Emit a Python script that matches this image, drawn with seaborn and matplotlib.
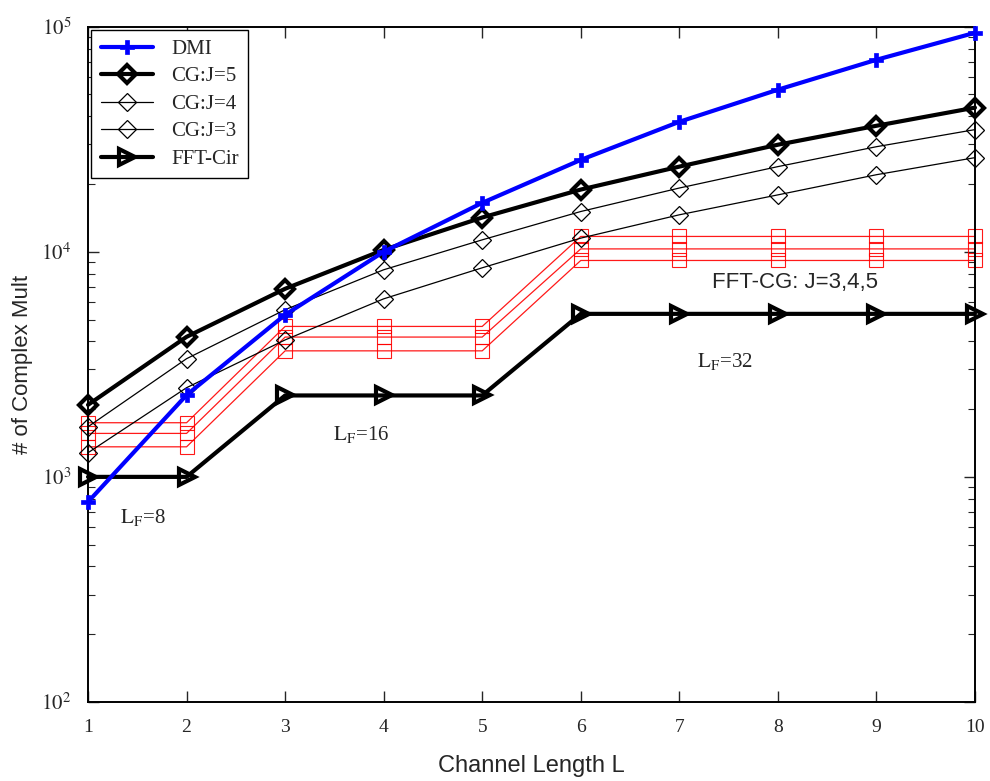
import numpy as np
import pandas as pd
import matplotlib
matplotlib.use("Agg")
import matplotlib.pyplot as plt
import seaborn as sns
from matplotlib.ticker import FixedLocator, LogLocator, FuncFormatter, NullFormatter
from matplotlib.lines import Line2D

# Channel length L
channel_length = [1, 2, 3, 4, 5, 6, 7, 8, 9, 10]

# Number of complex multiplications per method
dmi = [774, 2310, 5250, 10000, 16500, 25600, 37800, 52500, 71300, 94000]
cg_j5 = [2090, 4190, 6850, 10200, 14200, 18900, 23900, 29900, 36300, 43700]
cg_j4 = [1670, 3350, 5530, 8320, 11300, 15100, 19200, 23900, 29300, 34900]
cg_j3 = [1280, 2490, 4060, 6180, 8490, 11500, 14600, 17900, 22000, 26200]
fft_cir = [1000, 1000, 2300, 2300, 2300, 5300, 5300, 5300, 5300, 5300]
fft_cg_j5 = [1740, 1740, 4660, 4660, 4660, 11700, 11700, 11700, 11700, 11700]
fft_cg_j4 = [1560, 1560, 4180, 4180, 4180, 10300, 10300, 10300, 10300, 10300]
fft_cg_j3 = [1360, 1360, 3630, 3630, 3630, 9150, 9150, 9150, 9150, 9150]

legend_labels = ["DMI", "CG:J=5", "CG:J=4", "CG:J=3", "FFT-Cir"]

sns.set_style("ticks")
plt.rcParams["font.family"] = ["Liberation Serif", "DejaVu Serif"]
plt.rcParams["mathtext.fontset"] = "stix"

SERIF = ["Liberation Serif", "DejaVu Serif"]
SANS = ["Liberation Sans", "DejaVu Sans"]

fig = plt.figure(figsize=(9.9, 7.81), dpi=100)
ax = fig.add_axes([0.0889, 0.1012, 0.8959, 0.8646])

df = pd.DataFrame({
    "L": channel_length,
    "DMI": dmi, "CG5": cg_j5, "CG4": cg_j4, "CG3": cg_j3, "FFTCir": fft_cir,
    "FCG5": fft_cg_j5, "FCG4": fft_cg_j4, "FCG3": fft_cg_j3,
})

# FFT-CG curves (red, open squares), drawn first so the others sit on top
for col in ["FCG5", "FCG4", "FCG3"]:
    sns.lineplot(data=df, x="L", y=col, ax=ax, color="red", lw=0.9,
                 marker="s", markersize=10.5, markerfacecolor="none",
                 markeredgecolor="red", markeredgewidth=0.8, alpha=0.9,
                 legend=False, zorder=2, clip_on=False)

styles = {
    "DMI": dict(color="blue", lw=3.0, marker="P", markersize=10,
                markerfacecolor="blue", markeredgecolor="blue", markeredgewidth=0.5),
    "CG5": dict(color="black", lw=3.0, marker="D", markersize=9,
                markerfacecolor="none", markeredgecolor="black", markeredgewidth=3.0),
    "CG4": dict(color="black", lw=0.9, marker="D", markersize=9,
                markerfacecolor="none", markeredgecolor="black", markeredgewidth=0.9),
    "CG3": dict(color="black", lw=0.9, marker="D", markersize=9,
                markerfacecolor="none", markeredgecolor="black", markeredgewidth=0.9),
    "FFTCir": dict(color="black", lw=3.0, marker=">", markersize=12,
                   markerfacecolor="none", markeredgecolor="black", markeredgewidth=3.0),
}
order = ["DMI", "CG5", "CG4", "CG3", "FFTCir"]
for col in order[::-1]:
    sns.lineplot(data=df, x="L", y=col, ax=ax, legend=False, zorder=3,
                 clip_on=False, **styles[col])

ax.set_yscale("log")
ax.set_xlim(1, 10)
ax.set_ylim(1e2, 1e5)

ax.xaxis.set_major_locator(FixedLocator(channel_length))
ax.yaxis.set_major_locator(LogLocator(base=10, numticks=10))
ax.yaxis.set_minor_locator(LogLocator(base=10, subs=np.arange(2, 10), numticks=20))
ax.yaxis.set_minor_formatter(NullFormatter())
ax.yaxis.set_major_formatter(FuncFormatter(lambda v, p: r"$10^{%d}$" % int(round(np.log10(v)))))

ax.tick_params(axis="both", which="both", direction="in", top=True, right=True)
ax.tick_params(axis="x", which="major", length=8, width=1.0, labelsize=14, pad=12)
ax.tick_params(axis="y", which="major", length=8, width=1.0, labelsize=15, pad=12)
ax.tick_params(axis="y", which="minor", length=5, width=0.8)
for lab in ax.get_xticklabels() + ax.get_yticklabels():
    lab.set_family(SERIF)

for sp in ax.spines.values():
    sp.set_visible(True)
    sp.set_linewidth(1.4)
    sp.set_color("black")

ax.set_xlabel("Channel Length L", family=SANS, fontsize=17, labelpad=14)
ax.set_ylabel("# of Complex Mult", family=SANS, fontsize=16, labelpad=6)

# Filter-length annotations
ax.text(1.32, 660, r"$\mathrm{L_F}$=8", family=SERIF, fontsize=15, va="center", ha="left")
ax.text(3.49, 1540, r"$\mathrm{L_F}$=16", family=SERIF, fontsize=15, va="center", ha="left")
ax.text(7.18, 3250, r"$\mathrm{L_F}$=32", family=SERIF, fontsize=15, va="center", ha="left")
ax.text(7.33, 7300, "FFT-CG: J=3,4,5", family=SANS, fontsize=16, va="center", ha="left")

handles = [Line2D([0], [0], **styles[c]) for c in order]
leg = ax.legend(handles, legend_labels, loc="upper left", prop={"family": SERIF, "size": 15},
                frameon=True, fancybox=False, framealpha=1, edgecolor="black",
                handlelength=2.5, labelspacing=0.38, borderaxespad=0.15,
                borderpad=0.45, handletextpad=0.9)
leg.get_frame().set_linewidth(1.0)

fig.savefig("out.png", dpi=100)
